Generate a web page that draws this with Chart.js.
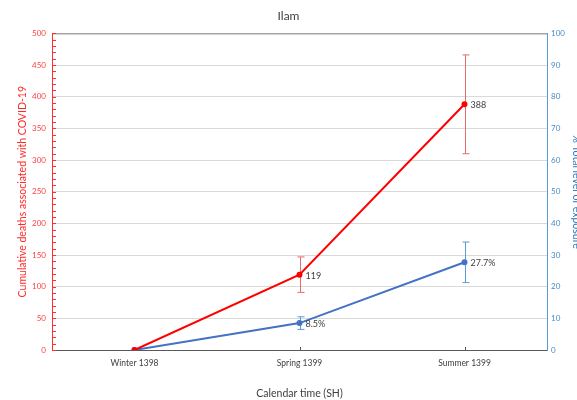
<!DOCTYPE html>
<html>
<head>
<meta charset="utf-8">
<script src="https://cdn.jsdelivr.net/npm/chart.js@4"></script>
<style>
  html, body { margin: 0; padding: 0; background: #fff; }
  #wrap { width: 577px; height: 400px; position: relative; }
</style>
</head>
<body>
<div id="wrap"><canvas id="chart"></canvas></div>
<script>
const categories = ["Winter 1398", "Spring 1399", "Summer 1399"];
const deaths = [0, 119, 388];
const deathsErr = [0, 28, 78];
const deathsLabels = ["", "119", "388"];
const exposure = [0, 8.5, 27.7];
const exposureErr = [0, 2, 6.4];
const exposureLabels = ["", "8.5%", "27.7%"];

const FONT = "Lato, 'Liberation Sans', sans-serif";

// error bars, minor ticks and point labels drawn on top of the scales
const extras = {
  id: "extras",
  beforeDatasetsDraw(chart) {
    const ctx = chart.ctx;
    const area = chart.chartArea;
    const yl = chart.scales.y;
    const x = chart.scales.x;
    ctx.save();
    // minor ticks on the left axis
    ctx.strokeStyle = "#ff3030";
    ctx.lineWidth = 1;
    for (let v = 0; v <= 500; v += 10) {
      const py = Math.round(yl.getPixelForValue(v)) + 0.5;
      ctx.beginPath();
      ctx.moveTo(area.left, py);
      ctx.lineTo(area.left + 4, py);
      ctx.stroke();
    }
    // small category ticks on the x axis
    ctx.strokeStyle = "#595959";
    categories.forEach((c, i) => {
      const px = Math.round(x.getPixelForValue(i)) + 0.5;
      ctx.beginPath();
      ctx.moveTo(px, area.bottom);
      ctx.lineTo(px, area.bottom - 3);
      ctx.stroke();
    });
    // error bars
    chart.data.datasets.forEach((ds, di) => {
      const sc = chart.scales[ds.yAxisID];
      ctx.strokeStyle = ds.errColor;
      ctx.lineWidth = 1;
      ds.data.forEach((v, i) => {
        const e = ds.err[i];
        if (!e) return;
        const px = Math.round(x.getPixelForValue(i)) + 0.5;
        const top = sc.getPixelForValue(v + e);
        const bot = sc.getPixelForValue(v - e);
        ctx.beginPath();
        ctx.moveTo(px, top); ctx.lineTo(px, bot);
        ctx.moveTo(px - 3, top); ctx.lineTo(px + 4, top);
        ctx.moveTo(px - 3, bot); ctx.lineTo(px + 4, bot);
        ctx.stroke();
      });
    });
    ctx.restore();
  },
  afterDatasetsDraw(chart) {
    const ctx = chart.ctx;
    ctx.save();
    ctx.font = "9px " + FONT;
    ctx.fillStyle = "#404040";
    ctx.textBaseline = "middle";
    ctx.textAlign = "left";
    chart.data.datasets.forEach((ds, di) => {
      const meta = chart.getDatasetMeta(di);
      meta.data.forEach((pt, i) => {
        const t = ds.labels[i];
        if (t) ctx.fillText(t, pt.x + 6, pt.y + 1);
      });
    });
    ctx.restore();
  }
};

new Chart(document.getElementById("chart"), {
  type: "line",
  data: {
    labels: categories,
    datasets: [
      {
        label: "Cumulative deaths",
        data: deaths,
        err: deathsErr,
        labels: deathsLabels,
        errColor: "#e86a6a",
        yAxisID: "y",
        borderColor: "#ff0000",
        backgroundColor: "#ff0000",
        borderWidth: 2,
        pointRadius: 2,
        tension: 0
      },
      {
        label: "Total level of exposure",
        data: exposure,
        err: exposureErr,
        labels: exposureLabels,
        errColor: "#5b9bd5",
        yAxisID: "y1",
        borderColor: "#4472c4",
        backgroundColor: "#4472c4",
        borderWidth: 2,
        pointRadius: 2,
        tension: 0
      }
    ]
  },
  options: {
    responsive: true,
    maintainAspectRatio: false,
    animation: false,
    layout: { padding: 0 },
    plugins: {
      legend: { display: false },
      tooltip: { enabled: false },
      title: {
        display: true,
        text: "Ilam",
        color: "#404040",
        font: { family: FONT, size: 12, weight: "normal" },
        padding: { top: 9, bottom: 10 }
      }
    },
    scales: {
      x: {
        offset: true,
        grid: { display: false, drawTicks: false },
        border: { color: "#595959", width: 1 },
        ticks: { color: "#404040", font: { family: FONT, size: 8.5 }, padding: 8, maxRotation: 0 },
        title: {
          display: true,
          text: "Calendar time (SH)",
          color: "#404040",
          font: { family: FONT, size: 10.5 },
          padding: { top: 16, bottom: 0 }
        },
        afterFit: s => { s.height = 50; }
      },
      y: {
        position: "left",
        min: 0,
        max: 500,
        ticks: { stepSize: 50, color: "#ff4040", font: { family: FONT, size: 8 }, padding: 6 },
        grid: {
          drawTicks: false,
          color: c => c.tick.value === 500 ? "#a6a6a6" : "#d9d9d9",
          lineWidth: c => c.tick.value === 500 ? 1.5 : 1
        },
        border: { color: "#ff3030", width: 1 },
        title: {
          display: true,
          text: "Cumulative deaths associated with COVID-19",
          color: "#ff2a2a",
          font: { family: FONT, size: 10.5 },
          padding: { top: 16, bottom: 0 }
        },
        afterFit: s => { s.width = 52; }
      },
      y1: {
        position: "right",
        min: 0,
        max: 100,
        ticks: { stepSize: 10, color: "#4a8ac8", font: { family: FONT, size: 8 }, padding: 4 },
        grid: { drawOnChartArea: false, drawTicks: false },
        border: { color: "#5b9bd5", width: 1 },
        title: {
          display: true,
          text: "% Total level of exposure",
          color: "#2e75b6",
          font: { family: FONT, size: 10.5 },
          padding: { top: -6, bottom: 0 }
        },
        afterFit: s => { s.width = 30; }
      }
    }
  },
  plugins: [extras]
});
</script>
</body>
</html>
